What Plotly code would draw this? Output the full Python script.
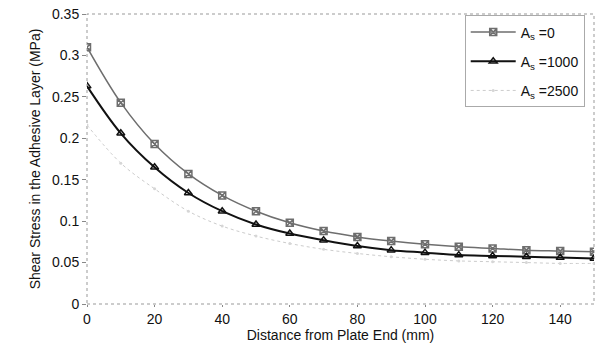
import plotly.graph_objects as go

distance = [0, 10, 20, 30, 40, 50, 60, 70, 80, 90, 100, 110, 120, 130, 140, 150]
as_0 = [0.310, 0.243, 0.193, 0.157, 0.131, 0.112, 0.098, 0.088, 0.081, 0.076, 0.072, 0.069, 0.067, 0.065, 0.064, 0.063]
as_1000 = [0.263, 0.206, 0.165, 0.134, 0.112, 0.096, 0.085, 0.077, 0.070, 0.065, 0.062, 0.059, 0.058, 0.057, 0.056, 0.055]
as_2500 = [0.216, 0.170, 0.139, 0.112, 0.094, 0.082, 0.073, 0.066, 0.061, 0.057, 0.054, 0.052, 0.051, 0.050, 0.049, 0.049]
names = ["A<sub>s</sub> =0", "A<sub>s</sub> =1000", "A<sub>s</sub> =2500"]
y_ticks = [0, 0.05, 0.1, 0.15, 0.2, 0.25, 0.3, 0.35]
y_tick_text = ["0", "0.05", "0.1", "0.15", "0.2", "0.25", "0.3", "0.35"]
x_ticks = [0, 20, 40, 60, 80, 100, 120, 140]

fig = go.Figure()
fig.add_trace(go.Scatter(x=distance, y=as_0, name=names[0], mode="lines+markers",
                         line=dict(color="#6e6e6e", width=1.5, shape="spline"),
                         marker=dict(symbol="square-x-open", size=7, color="#6e6e6e", line=dict(width=1.5)),
                         legendgroup="a"))
fig.add_trace(go.Scatter(x=distance, y=as_1000, name=names[1], mode="lines+markers",
                         line=dict(color="#111111", width=2, shape="spline"),
                         marker=dict(symbol="triangle-up-open", size=7, color="#111111", line=dict(width=1.5)),
                         legendgroup="b"))
fig.add_trace(go.Scatter(x=distance, y=as_2500, name=names[2], mode="lines+markers",
                         line=dict(color="#cccccc", width=1, dash="dot", shape="spline"),
                         marker=dict(symbol="circle", size=3, color="#d6d6d6"),
                         legendgroup="c"))

fig.add_shape(type="rect", xref="paper", yref="paper", x0=0, y0=0, x1=1, y1=1,
              line=dict(color="#999999", width=1, dash="dot"), layer="below")

fig.update_layout(
    width=595, height=354,
    margin=dict(l=87, r=1, t=14, b=50),
    paper_bgcolor="white", plot_bgcolor="white",
    font=dict(family="Liberation Sans, Arial, sans-serif", size=14, color="#111111"),
    showlegend=True,
    legend=dict(x=0.745, y=0.995, xanchor="left", yanchor="top",
                bgcolor="white", bordercolor="#aaaaaa", borderwidth=1,
                font=dict(size=14), tracegroupgap=8, itemwidth=45),
    xaxis=dict(range=[0, 150], tickvals=x_ticks, showgrid=False, zeroline=False,
               showline=False, ticks="outside", ticklen=2, tickcolor="#888888",
               title=dict(text="Distance from Plate End (mm)", font=dict(size=14), standoff=2),
               tickfont=dict(size=14)),
    yaxis=dict(range=[0, 0.35], tickvals=y_ticks, ticktext=y_tick_text, showgrid=False,
               zeroline=False, showline=False, ticks="outside", ticklen=4, tickcolor="#888888",
               title=dict(text="Shear Stress in the Adhesive Layer (MPa)", font=dict(size=14), standoff=8),
               tickfont=dict(size=14)),
)

fig.write_html("out.html")
